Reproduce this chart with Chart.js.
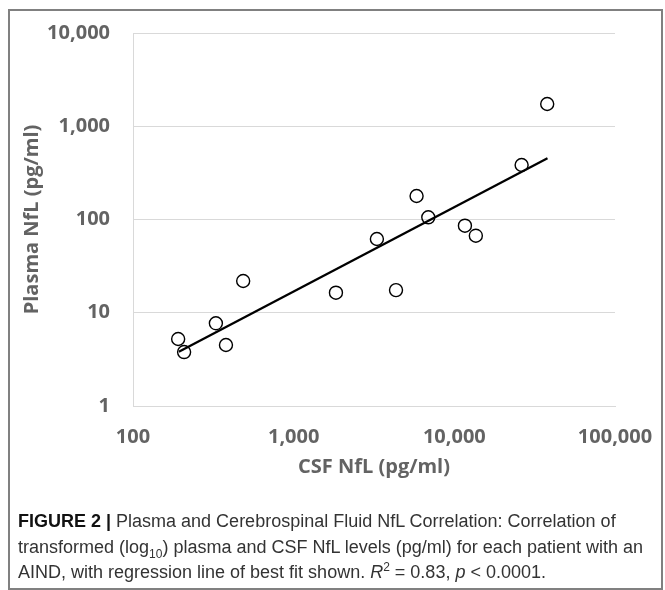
<!DOCTYPE html>
<html>
<head>
<meta charset="utf-8">
<script src="https://cdn.jsdelivr.net/npm/chart.js@4/dist/chart.umd.min.js"></script>
<style>
  html, body { margin: 0; padding: 0; background: #fff; }
  #wrap { position: relative; width: 665px; height: 590px; overflow: hidden; }
  #chart { position: absolute; left: 0; top: 0; }
  #frame { position: absolute; left: 8px; top: 9px; width: 655px; height: 581px;
           border: 2px solid #808080; box-sizing: border-box; pointer-events: none; }
  #caption { position: absolute; left: 18px; top: 509px; width: 645px;
             font-family: "Liberation Sans", Arial, sans-serif;
             font-size: 18px; line-height: 25.5px; color: #333; white-space: nowrap; }
  #caption b { color: #111; }
  #caption sub, #caption sup { font-size: 12px; line-height: 0; }
</style>
</head>
<body>
<div id="wrap">
  <canvas id="chart" width="665" height="490"></canvas>
  <div id="frame"></div>
  <div id="caption">
    <div><b>FIGURE 2 |</b> Plasma and Cerebrospinal Fluid NfL Correlation: Correlation of</div>
    <div>transformed (log<sub>10</sub>) plasma and CSF NfL levels (pg/ml) for each patient with an</div>
    <div>AIND, with regression line of best fit shown. <i>R</i><sup>2</sup> = 0.83, <i>p</i> &lt; 0.0001.</div>
  </div>
</div>
<script>
// ===== Data =====
const csfNfl    = [191, 208, 328, 379, 485, 1833, 3296, 4335, 5821, 6885, 11640, 13610, 26230, 37850];
const plasmaNfl = [5.23, 3.79, 7.71, 4.51, 21.9, 16.4, 61.8, 17.5, 178.6, 105.6, 85.8, 67, 384, 1732];

// regression line end points
const fitX = [193, 38000];
const fitY = [3.82, 453];

const xTicks = [100, 1000, 10000, 100000];
const yTicks = [1, 10, 100, 1000, 10000];

const xTitle = 'CSF NfL (pg/ml)';
const yTitle = 'Plasma NfL (pg/ml)';

const textGray = '#636363';
const gridGray = '#d9d9d9';
const axisFont = { family: 'Open Sans', weight: 'bold', size: 20, lineHeight: 1.2 };

const fmt = v => Number(v).toLocaleString('en-US');

new Chart(document.getElementById('chart').getContext('2d'), {
    type: 'scatter',
    data: {
        datasets: [
            {
                label: 'Patients',
                data: csfNfl.map((x, i) => ({ x, y: plasmaNfl[i] })),
                pointStyle: 'circle',
                pointRadius: 6.5,
                pointBorderWidth: 1.4,
                pointBorderColor: '#000',
                pointBackgroundColor: 'rgba(0,0,0,0)',
                showLine: false
            },
            {
                label: 'Fit',
                data: fitX.map((x, i) => ({ x, y: fitY[i] })),
                showLine: true,
                borderColor: '#000',
                borderWidth: 2.3,
                pointRadius: 0
            }
        ]
    },
    options: {
        responsive: false,
        animation: false,
        layout: { padding: { top: 33, right: 50, left: 0, bottom: 0 } },
        plugins: { legend: { display: false }, tooltip: { enabled: false } },
        scales: {
            x: {
                type: 'logarithmic',
                min: 100, max: 100000,
                afterBuildTicks: s => { s.ticks = xTicks.map(v => ({ value: v })); },
                afterFit: s => { s.height = 84; s.paddingLeft = 0; s.paddingRight = 0; },
                grid: { display: false, drawTicks: false },
                border: { display: true, color: gridGray, width: 1 },
                ticks: { font: axisFont, color: textGray, padding: 19, maxRotation: 0, autoSkip: false,
                          callback: v => fmt(v) },
                title: { display: true, text: xTitle, font: axisFont, color: textGray,
                         padding: { top: 0, bottom: 11 } }
            },
            y: {
                type: 'logarithmic',
                min: 1, max: 10000,
                afterBuildTicks: s => { s.ticks = yTicks.map(v => ({ value: v })); },
                afterFit: s => { s.width = 133; s.paddingTop = 0; s.paddingBottom = 0; },
                grid: { color: gridGray, lineWidth: 1, drawTicks: false },
                border: { display: true, color: gridGray, width: 1 },
                ticks: { font: axisFont, color: textGray, padding: 23, autoSkip: false,
                          callback: v => fmt(v) },
                title: { display: true, text: yTitle, font: axisFont, color: textGray,
                         padding: { top: 20, bottom: 0 } }
            }
        }
    }
});
</script>
</body>
</html>
